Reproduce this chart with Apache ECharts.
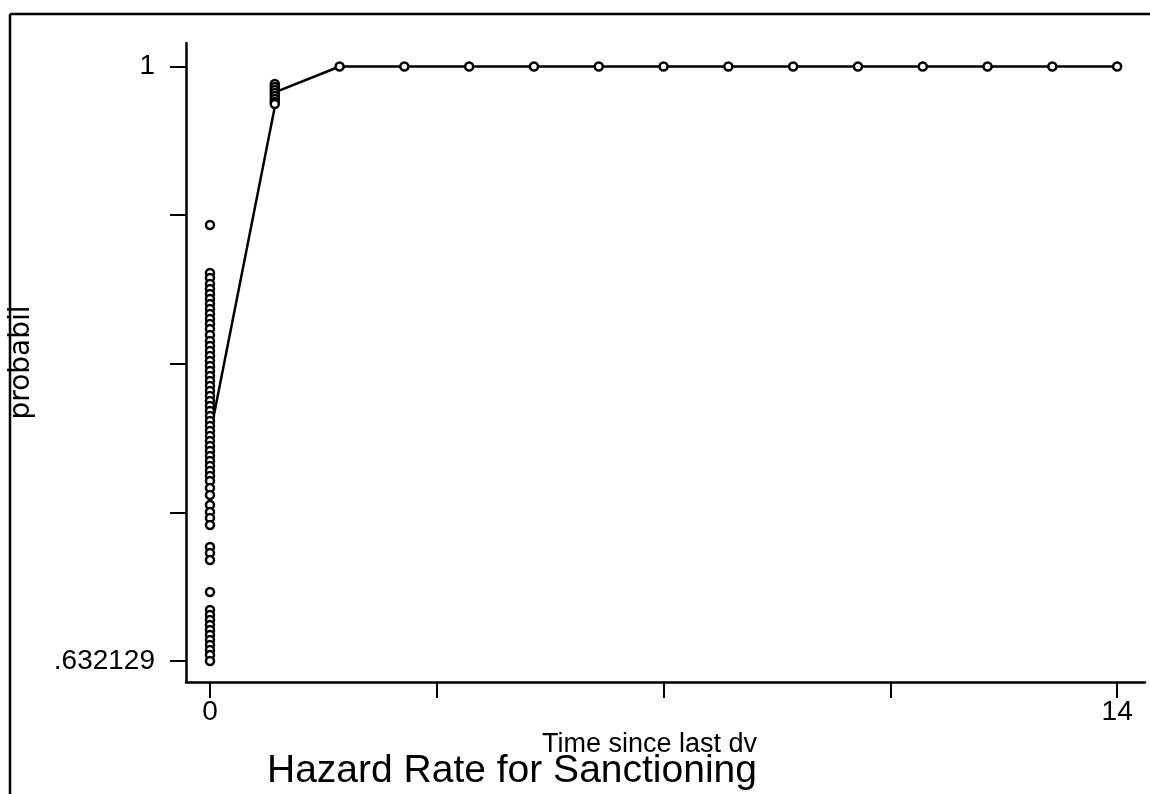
<!DOCTYPE html>
<html><head><meta charset="utf-8">
<script src="https://cdn.jsdelivr.net/npm/echarts@6/dist/echarts.min.js"></script>
<style>html,body{margin:0;padding:0;background:#fff}#c{width:1150px;height:794px}</style>
</head><body><div id="c"></div>
<script>
// ---- data ----
const xTickValues = [0, 3.5, 7, 10.5, 14];
const xLabelValues = [0, 14];
const yTickValues = [0.632129, 0.724097, 0.816064, 0.908032, 1];
const yLabelValues = [0.632129, 1];

const prob_t0 = [0.9019, 0.8722, 0.8691, 0.8654, 0.8623, 0.8592, 0.8561, 0.8530, 0.8499, 0.8469,
  0.8438, 0.8407, 0.8376, 0.8339, 0.8301, 0.8271, 0.8240, 0.8209, 0.8178, 0.8147, 0.8116, 0.8085,
  0.8054, 0.8023, 0.7992, 0.7961, 0.7930, 0.7899, 0.7868, 0.7837, 0.7806, 0.7775, 0.7744, 0.7713,
  0.7682, 0.7651, 0.7621, 0.7590, 0.7559, 0.7528, 0.7497, 0.7466, 0.7435, 0.7392, 0.7349, 0.7287,
  0.7244, 0.7206, 0.7163, 0.7027, 0.6990, 0.6946, 0.6748, 0.6637, 0.6606, 0.6575, 0.6544, 0.6513,
  0.6482, 0.6451, 0.6420, 0.6389, 0.6358, 0.632129];
const prob_t1 = [0.9892, 0.9873, 0.9855, 0.9836, 0.9817, 0.9799, 0.9780, 0.9768];
const timeLater = [2, 3, 4, 5, 6, 7, 8, 9, 10, 11, 12, 13, 14];
const probLater = [1, 1, 1, 1, 1, 1, 1, 1, 1, 1, 1, 1, 1];
const lineTime = [0, 1, 1, 2, 3, 4, 5, 6, 7, 8, 9, 10, 11, 12, 13, 14];
const lineProb = [0.772, 0.975, 0.984, 1, 1, 1, 1, 1, 1, 1, 1, 1, 1, 1, 1, 1];

// ---- build ----
const scatterData = []
  .concat(prob_t0.map(v => [0, v]))
  .concat(prob_t1.map(v => [1, v]))
  .concat(timeLater.map((t, i) => [t, probLater[i]]));
const lineData = lineTime.map((t, i) => [t, lineProb[i]]);

const font = 'Liberation Sans, Arial, sans-serif';
const chart = echarts.init(document.getElementById('c'), null, {renderer: 'canvas'});
chart.setOption({
  backgroundColor: '#fff',
  animation: false,
  title: {
    text: 'Hazard Rate for Sanctioning',
    left: 262, top: 747,
    textStyle: {fontFamily: font, fontSize: 39, fontWeight: 'normal', color: '#000'}
  },
  grid: {left: 183, right: 5, top: 43, bottom: 112},
  xAxis: {
    type: 'value', min: -0.37, max: 14.43,
    name: 'Time since last dv', nameLocation: 'middle', nameGap: 47,
    nameTextStyle: {fontFamily: font, fontSize: 27, color: '#000', padding: [0, 32, 0, 0]},
    axisLine: {show: true, onZero: false, lineStyle: {color: '#000', width: 2.5}},
    axisTick: {show: true, length: 16, lineStyle: {color: '#000', width: 2}, customValues: xTickValues},
    axisLabel: {show: true, customValues: xLabelValues, margin: 16, color: '#000',
      fontFamily: font, fontSize: 28, formatter: v => String(v)},
    splitLine: {show: false}
  },
  yAxis: {
    type: 'value', min: 0.619135, max: 1.01454,
    name: 'probabil', nameLocation: 'middle', nameGap: 150,
    nameTextStyle: {fontFamily: 'DejaVu Sans, sans-serif', fontSize: 28, color: '#000'},
    axisLine: {show: true, onZero: false, lineStyle: {color: '#000', width: 2.5}},
    axisTick: {show: true, length: 16, lineStyle: {color: '#000', width: 2}, customValues: yTickValues},
    axisLabel: {show: true, customValues: yLabelValues, margin: 31, color: '#000',
      fontFamily: font, fontSize: 28,
      formatter: v => (v === 1 ? '1' : String(v).replace(/^0/, ''))},
    splitLine: {show: false}
  },
  graphic: [
    {type: 'line', shape: {x1: 10, y1: 14, x2: 1150, y2: 14}, style: {stroke: '#000', lineWidth: 2.5}},
    {type: 'line', shape: {x1: 10, y1: 14, x2: 10, y2: 794}, style: {stroke: '#000', lineWidth: 2.5}}
  ],
  series: [
    {type: 'line', data: lineData, showSymbol: false, z: 2,
      lineStyle: {color: '#000', width: 2.5}},
    {type: 'scatter', data: scatterData, symbol: 'circle', symbolSize: 8, z: 3,
      itemStyle: {color: '#fff', borderColor: '#000', borderWidth: 2.5, opacity: 1}}
  ]
});
</script></body></html>
